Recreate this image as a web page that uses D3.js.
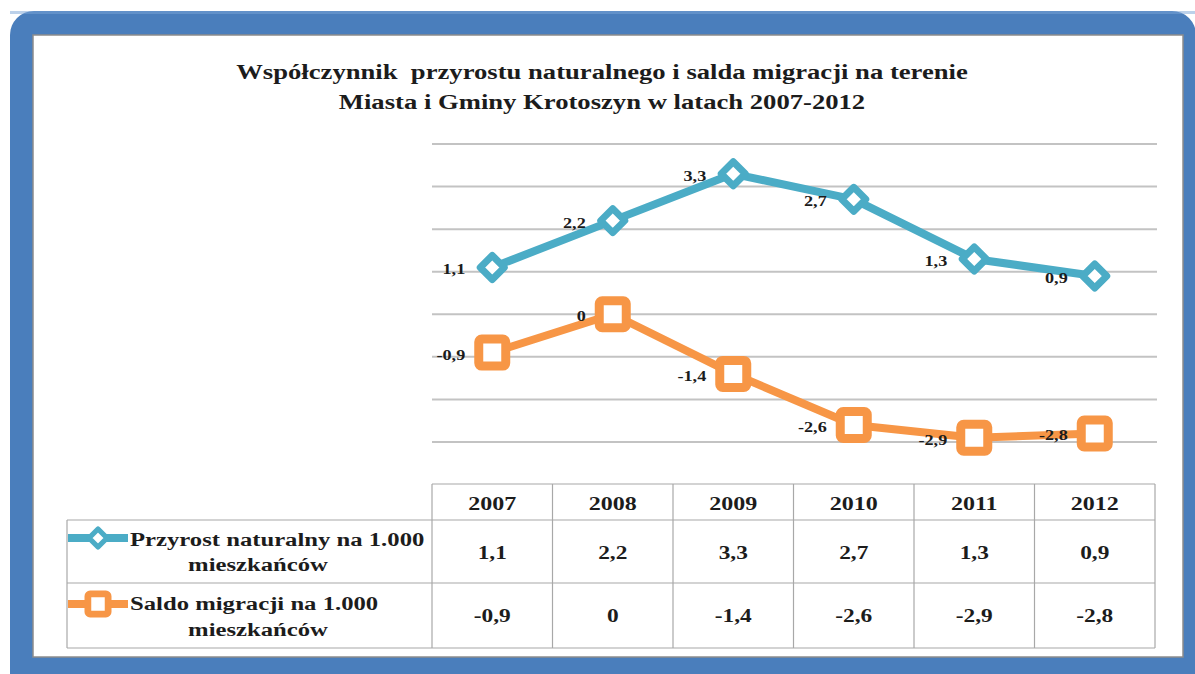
<!DOCTYPE html>
<html>
<head>
<meta charset="utf-8">
<script src="https://cdn.jsdelivr.net/npm/d3@7"></script>
<style>
  body { margin: 0; background: #fff; }
  text { font-family: "Liberation Serif", "Times New Roman", serif; font-weight: bold; fill: #1c1c1c; }
</style>
</head>
<body>
<svg id="chart" width="1195" height="674"></svg>
<script>
const years = ["2007", "2008", "2009", "2010", "2011", "2012"];
const przyrost = [1.1, 2.2, 3.3, 2.7, 1.3, 0.9];
const saldo = [-0.9, 0, -1.4, -2.6, -2.9, -2.8];
const seriesLabels = [
  ["Przyrost naturalny na 1.000", "mieszkańców"],
  ["Saldo migracji na 1.000", "mieszkańców"]
];
const titleLines = [
  "Współczynnik  przyrostu naturalnego i salda migracji na terenie",
  "Miasta i Gminy Krotoszyn w latach 2007-2012"
];
const yTicks = [-3, -2, -1, 0, 1, 2, 3, 4];

const blue = "#4bacc6";
const orange = "#f79646";
const frameBlue = "#4a7ebc";
const SX = 1.3; // the original lettering is stretched sideways

const fmt = d3.formatLocale({decimal: ",", thousands: ".", grouping: [3], currency: ["", ""], minus: "-"}).format("~g");

const svg = d3.select("#chart");

// ramka
svg.append("rect")
  .attr("x", 10).attr("y", 11)
  .attr("width", 1186).attr("height", 690)
  .attr("rx", 24)
  .attr("fill", frameBlue);
svg.append("rect")
  .attr("x", 10).attr("y", 11)
  .attr("width", 1186).attr("height", 3)
  .attr("fill", "#7aa3d6").attr("opacity", 0.5);
svg.append("rect")
  .attr("x", 33).attr("y", 35)
  .attr("width", 1150).attr("height", 622)
  .attr("fill", "#fff")
  .attr("stroke", "#8c8c8c")
  .attr("stroke-width", 1.5);

function label(g, x, y, txt, size, anchor) {
  return g.append("text")
    .attr("transform", `translate(${x},${y}) scale(${SX},1)`)
    .attr("text-anchor", anchor)
    .attr("font-size", size)
    .text(txt);
}

// tytuł
titleLines.forEach((t, i) => {
  label(svg, 602, 79 + i * 30, t, 20.5, "middle").attr("xml:space", "preserve");
});

const x = d3.scaleBand().domain(years).range([432, 1155]);
const y = d3.scaleLinear().domain([-3, 4]).range([442, 144]);
const cx = d => x(d) + x.bandwidth() / 2;

// siatka
svg.append("g")
  .selectAll("line")
  .data(yTicks)
  .enter().append("line")
    .attr("x1", 432).attr("x2", 1157)
    .attr("y1", d => y(d)).attr("y2", d => y(d))
    .attr("stroke", "#c3c3c3")
    .attr("stroke-width", 2);

const series = [
  {values: przyrost, color: blue, marker: "diamond"},
  {values: saldo, color: orange, marker: "square"}
];

function drawMarker(g, type, color, px, py, scale) {
  if (type === "diamond") {
    const r = 12 * scale;
    g.append("path")
      .attr("d", `M${px},${py - r}L${px + r},${py}L${px},${py + r}L${px - r},${py}Z`)
      .attr("fill", "#fff")
      .attr("stroke", color)
      .attr("stroke-width", 7 * scale)
      .attr("stroke-linejoin", "round");
  } else {
    const h = 13.5 * scale;
    g.append("rect")
      .attr("x", px - h).attr("y", py - h)
      .attr("width", 2 * h).attr("height", 2 * h)
      .attr("rx", 3 * scale)
      .attr("fill", "#fff")
      .attr("stroke", color)
      .attr("stroke-width", 9 * scale);
  }
}

const line = d3.line()
  .x((d, i) => cx(years[i]))
  .y(d => y(d));

series.forEach(s => {
  const g = svg.append("g");
  g.append("path")
    .datum(s.values)
    .attr("d", line)
    .attr("fill", "none")
    .attr("stroke", s.color)
    .attr("stroke-width", 8)
    .attr("stroke-linejoin", "round");
  s.values.forEach((v, i) => drawMarker(g, s.marker, s.color, cx(years[i]), y(v), 1));
  s.values.forEach((v, i) => label(g, cx(years[i]) - 27, y(v) + 7, fmt(v), 14, "end"));
});

// tabela danych
const table = svg.append("g");
const rowTop = [484, 520, 583, 648];
const left = 67, right = 1155;
const grid = "#a8a8a8";

table.append("line").attr("x1", 432).attr("x2", right).attr("y1", rowTop[0]).attr("y2", rowTop[0]);
rowTop.slice(1).forEach(r => {
  table.append("line").attr("x1", left).attr("x2", right).attr("y1", r).attr("y2", r);
});
table.append("line").attr("x1", left).attr("x2", left).attr("y1", rowTop[1]).attr("y2", rowTop[3]);
years.forEach(yr => {
  table.append("line").attr("x1", x(yr)).attr("x2", x(yr)).attr("y1", rowTop[0]).attr("y2", rowTop[3]);
});
table.append("line").attr("x1", right).attr("x2", right).attr("y1", rowTop[0]).attr("y2", rowTop[3]);
table.selectAll("line").attr("stroke", grid).attr("stroke-width", 1.2);

years.forEach(yr => label(table, cx(yr), 509.5, yr, 18.5, "middle"));

series.forEach((s, k) => {
  const top = rowTop[k + 1];
  const iconY = top + 18 + k * 3;
  table.append("line")
    .attr("x1", 68).attr("x2", 128)
    .attr("y1", iconY).attr("y2", iconY)
    .attr("stroke", s.color)
    .attr("stroke-width", 8);
  drawMarker(table, s.marker, s.color, 98, iconY, 0.75);
  label(table, 130, top + 26 + k, seriesLabels[k][0], 19, "start");
  label(table, 258, top + 51 + k * 2, seriesLabels[k][1], 19, "middle");
  s.values.forEach((v, i) => label(table, cx(years[i]), top + 39, fmt(v), 18, "middle"));
});
</script>
</body>
</html>
